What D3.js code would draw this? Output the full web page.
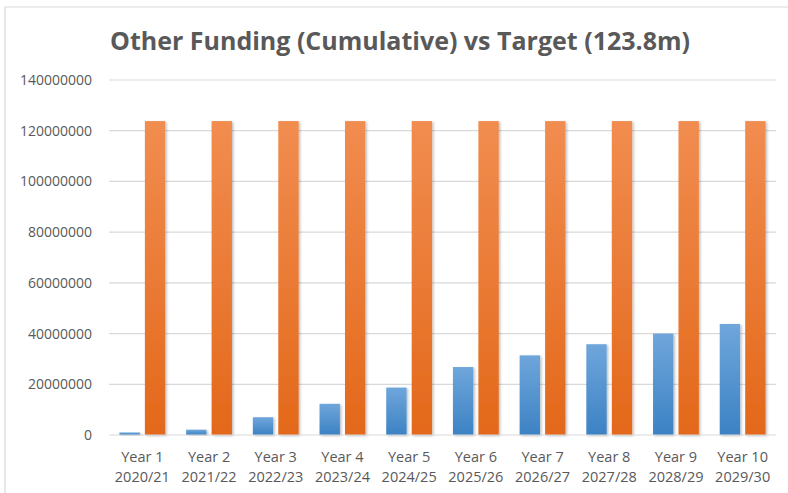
<!DOCTYPE html>
<html>
<head>
<meta charset="utf-8">
<script src="https://cdn.jsdelivr.net/npm/d3@7"></script>
<style>
  body { margin: 0; background: #fff; }
  text { font-family: "Open Sans", sans-serif; fill: #595959; }
</style>
</head>
<body>
<div id="chart"></div>
<script>
// chart data
const years = ["Year 1", "Year 2", "Year 3", "Year 4", "Year 5", "Year 6", "Year 7", "Year 8", "Year 9", "Year 10"]
const seasons = ["2020/21", "2021/22", "2022/23", "2023/24", "2024/25", "2025/26", "2026/27", "2027/28", "2028/29", "2029/30"]
const funding = [1000000, 2100000, 7000000, 12300000, 18700000, 26800000, 31400000, 35800000, 40000000, 43800000]
const target = [123800000, 123800000, 123800000, 123800000, 123800000, 123800000, 123800000, 123800000, 123800000, 123800000]
const yTicks = [0, 20000000, 40000000, 60000000, 80000000, 100000000, 120000000, 140000000]
const series = ["funding", "target"]

const W = 788, H = 493
const margin = { top: 80, right: 12, bottom: 58, left: 109 }
const innerW = W - margin.left - margin.right
const innerH = H - margin.top - margin.bottom

const svg = d3.select("#chart")
  .append("svg")
  .attr("width", W)
  .attr("height", H)

// outer frame (top and left visible in the picture)
svg.append("path")
  .attr("d", `M5,${H} L5,7 L${W},7`)
  .attr("fill", "none")
  .attr("stroke", "#d9d9d9")
  .attr("stroke-width", 1.2)

const defs = svg.append("defs")
const grads = [
  { id: "gBlue", top: "#6fa6db", bottom: "#3c82c4" },
  { id: "gOrange", top: "#f18d50", bottom: "#e3681a" }
]
grads.forEach(g => {
  const lg = defs.append("linearGradient")
    .attr("id", g.id)
    .attr("x1", 0).attr("y1", 0).attr("x2", 0).attr("y2", 1)
  lg.append("stop").attr("offset", "0%").attr("stop-color", g.top)
  lg.append("stop").attr("offset", "100%").attr("stop-color", g.bottom)
})
const shadow = defs.append("filter").attr("id", "shadow")
  .attr("x", "-20%").attr("y", "-5%").attr("width", "150%").attr("height", "115%")
shadow.append("feDropShadow")
  .attr("dx", 1.5).attr("dy", 1).attr("stdDeviation", 1.2)
  .attr("flood-color", "#000").attr("flood-opacity", 0.25)

svg.append("text")
  .attr("x", 400)
  .attr("y", 50)
  .attr("text-anchor", "middle")
  .attr("font-size", 25)
  .attr("font-weight", "bold")
  .text("Other Funding (Cumulative) vs Target (123.8m)")

const g = svg.append("g")
  .attr("transform", `translate(${margin.left},${margin.top})`)

let x0 = d3.scaleBand()
  .domain(years)
  .range([0, innerW])
  .padding(0)

let x1 = d3.scaleBand()
  .domain(series)
  .range([0, x0.bandwidth()])
  .paddingInner(0.2)
  .paddingOuter(0.41)

let y = d3.scaleLinear()
  .domain([0, 140000000])
  .range([innerH, 0])

// gridlines
g.append("g")
  .selectAll("line")
  .data(yTicks.filter(d => d > 0))
  .join("line")
  .attr("x1", 0)
  .attr("x2", innerW)
  .attr("y1", d => y(d))
  .attr("y2", d => y(d))
  .attr("stroke", "#d9d9d9")
  .attr("stroke-width", 1.2)

// y axis labels
const yAxis = g.append("g")
  .call(d3.axisLeft(y).tickValues(yTicks).tickFormat(d3.format("d")).tickSize(0).tickPadding(17))
yAxis.select(".domain").remove()
yAxis.selectAll("text")
  .attr("font-size", 14)
  .attr("fill", "#595959")
  .style("font-family", "Open Sans, sans-serif")

const rows = years.map((yr, i) => ({ year: yr, funding: funding[i], target: target[i] }))

const groups = g.selectAll(".grp")
  .data(rows)
  .join("g")
  .attr("class", "grp")
  .attr("transform", d => `translate(${x0(d.year)},0)`)

groups.selectAll("rect")
  .data(d => series.map(k => ({ key: k, value: d[k] })))
  .join("rect")
  .attr("x", d => x1(d.key))
  .attr("y", d => y(d.value))
  .attr("width", x1.bandwidth())
  .attr("height", d => innerH - y(d.value))
  .attr("fill", d => d.key == "funding" ? "url(#gBlue)" : "url(#gOrange)")
  .attr("filter", "url(#shadow)")

// baseline
g.append("line")
  .attr("x1", 0).attr("x2", innerW)
  .attr("y1", innerH).attr("y2", innerH)
  .attr("stroke", "#d9d9d9")
  .attr("stroke-width", 1.2)

// category labels, two lines
const xAxis = g.append("g")
  .attr("transform", `translate(0,${innerH})`)
  .call(d3.axisBottom(x0).tickSize(0).tickFormat(""))
xAxis.select(".domain").remove()
xAxis.selectAll(".tick").each(function (d, i) {
  const t = d3.select(this).append("text")
    .attr("text-anchor", "middle")
    .attr("font-size", 14.5)
    .attr("fill", "#595959")
    .style("font-family", "Open Sans, sans-serif")
  t.append("tspan").attr("x", 0).attr("y", 27).text(d)
  t.append("tspan").attr("x", 0).attr("y", 47).text(seasons[i])
})
</script>
</body>
</html>
